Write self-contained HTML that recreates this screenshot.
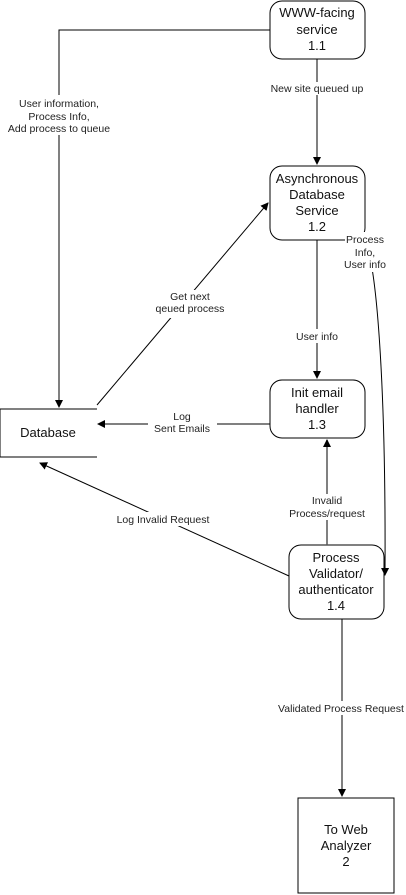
<!DOCTYPE html>
<html><head><style>html,body{margin:0;padding:0;background:#fff}svg{display:block}</style></head><body>
<svg width="406" height="895" xmlns="http://www.w3.org/2000/svg" font-family="Liberation Sans, sans-serif">
<defs><marker id="a" markerWidth="8" markerHeight="8" refX="7" refY="4" orient="auto" markerUnits="userSpaceOnUse"><path d="M0,0 L8,4 L0,8 z" fill="#000"/></marker></defs>
<g fill="none" stroke="#000" stroke-width="1">
<rect x="270" y="1" width="95" height="58" rx="12"/>
<rect x="270" y="166" width="95" height="74" rx="12"/>
<rect x="270" y="380" width="95" height="58" rx="12"/>
<rect x="289" y="545" width="95" height="74" rx="12"/>
<rect x="298" y="798" width="96" height="95"/>
<path d="M97,409 H0 V457 H97"/>
<path d="M270,30 H59 V407" marker-end="url(#a)"/>
<path d="M317,59 V164" marker-end="url(#a)"/>
<path d="M97,405 L268,203" marker-end="url(#a)"/>
<path d="M317,240 V378" marker-end="url(#a)"/>
<path d="M365,240 C378,270 386,400 385,575" marker-end="url(#a)"/>
<path d="M270,424 H98" marker-end="url(#a)"/>
<path d="M327,545 V440" stroke="#555" stroke-width="1.5" marker-end="url(#a)"/>
<path d="M289,576 L40,463" marker-end="url(#a)"/>
<path d="M342,619 V796" marker-end="url(#a)"/>
</g>
<g font-size="10.5" text-anchor="middle" fill="#222">
<rect x="3" y="95" width="114" height="40" fill="#fff"/>
<text x="59" y="107">User information,</text><text x="59" y="120">Process Info,</text><text x="59" y="132">Add process to queue</text>
<rect x="266" y="82" width="104" height="13" fill="#fff"/>
<text x="317" y="92">New site queued up</text>
<rect x="345" y="232" width="42" height="40" fill="#fff"/>
<text x="365" y="243">Process</text><text x="365" y="256">Info,</text><text x="365" y="268">User info</text>
<rect x="153" y="290" width="74" height="28" fill="#fff"/>
<text x="190" y="300">Get next</text><text x="190" y="312">qeued process</text>
<rect x="293" y="329" width="48" height="14" fill="#fff"/>
<text x="317" y="340">User info</text>
<rect x="148" y="410" width="69" height="26" fill="#fff"/>
<text x="182" y="420">Log</text><text x="182" y="432">Sent Emails</text>
<rect x="283" y="494" width="89" height="26" fill="#fff"/>
<text x="327" y="504">Invalid</text><text x="327" y="517">Process/request</text>
<rect x="112" y="512" width="102" height="14" fill="#fff"/>
<text x="163" y="523">Log Invalid Request</text>
<rect x="272" y="701" width="134" height="14" fill="#fff"/>
<text x="341" y="712">Validated Process Request</text>
</g>
<g font-size="13" text-anchor="middle" fill="#111">
<text x="317" y="17">WWW-facing</text><text x="317" y="34">service</text><text x="317" y="50">1.1</text>
<text x="317" y="183">Asynchronous</text><text x="317" y="199">Database</text><text x="317" y="215">Service</text><text x="317" y="231">1.2</text>
<text x="317" y="397">Init email</text><text x="317" y="413">handler</text><text x="317" y="429">1.3</text>
<text x="336" y="562">Process</text><text x="336" y="578">Validator/</text><text x="336" y="594">authenticator</text><text x="336" y="610">1.4</text>
<text x="48" y="437">Database</text>
<text x="346" y="834">To Web</text><text x="346" y="850">Analyzer</text><text x="346" y="866">2</text>
</g>
</svg>
</body></html>
